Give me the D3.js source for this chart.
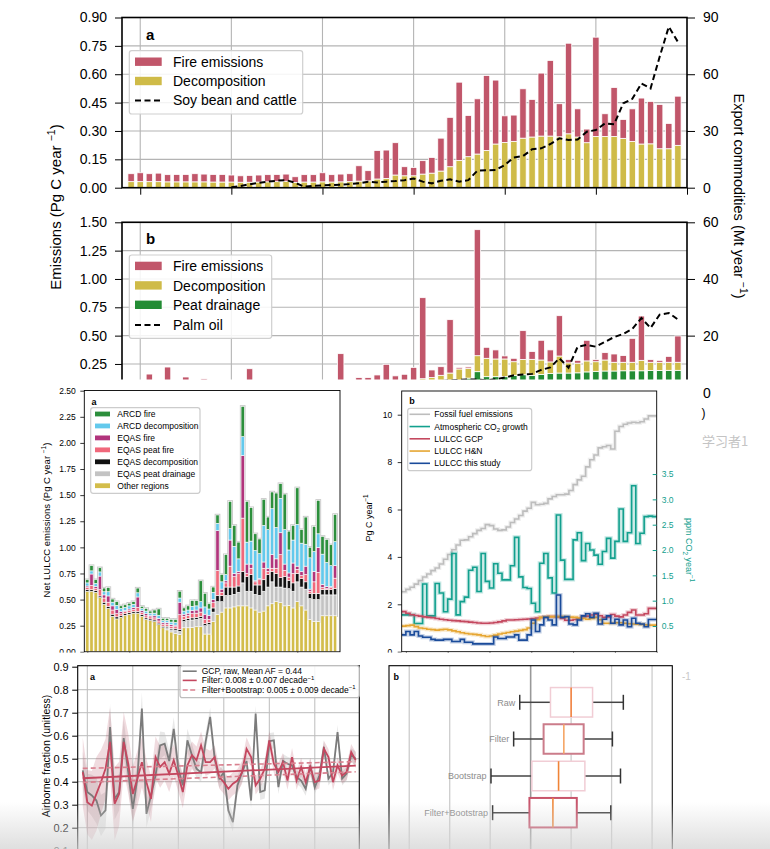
<!DOCTYPE html>
<html>
<head>
<meta charset="utf-8">
<script src="https://cdn.jsdelivr.net/npm/d3@7/dist/d3.min.js"></script>
<style>
  html, body { margin: 0; padding: 0; background: #fff; }
  svg { display: block; }
</style>
</head>
<body>
<svg id="chart" width="770" height="849"></svg>
<script>
// ---------- top figure: emissions and export commodities, 1959-2019 ----------
const years = d3.range(1959, 2020);

const decompA = [.032,.032,.032,.032,.031,.031,.031,.031,.031,.030,.030,.030,.029,.029,.030,.031,.032,.034,.028,.030,
  .030,.031,.030,.031,.032,.035,.036,.046,.049,.067,.063,.063,.072,.077,.088,.111,.144,.164,.178,.197,
  .231,.239,.245,.262,.268,.273,.273,.269,.285,.268,.238,.271,.271,.271,.261,.245,.231,.232,.206,.206,.224];
const fireA = [.042,.047,.042,.045,.038,.039,.039,.043,.041,.040,.040,.037,.034,.036,.037,.038,.038,.038,.030,.039,
  .039,.048,.039,.041,.042,.081,.054,.151,.150,.171,.048,.044,.071,.083,.174,.261,.414,.218,.292,.396,
  .338,.141,.139,.261,.199,.333,.400,.175,.479,.149,.072,.525,.120,.259,.100,.172,.243,.224,.234,.134,.260];
const soyYears = d3.range(1970, 2020);
const soyExport = [0.2,0.9,1.8,2.6,3.2,3.7,4.0,2.6,0.5,1.0,1.2,1.4,1.6,1.9,2.3,3.2,2.8,3.2,3.5,4.0,
  4.9,3.2,2.3,3.7,4.4,3.2,4.0,9.0,9.2,9.3,12.0,16.0,16.7,20.3,20.8,23.1,26.1,25.2,25.5,29.6,
  30.5,34.0,33.6,44.6,47.0,55.1,52.5,69.2,85.1,77.1];

const peatB = [0,0,0,0,0,0,0,0,0,0,0,0,0,0,0,0,0,0,0,0,0,0,0,0,0,0,0,0,0,0,
  .005,.01,.02,.03,.04,.06,.10,.125,.182,.138,.138,.138,.15,.155,.15,.158,.165,.17,.17,.172,.18,
  .185,.188,.188,.19,.19,.19,.192,.192,.194,.194];
const decompB = [.04,.04,.04,.04,.04,.04,.04,.04,.04,.035,.035,.035,.035,.035,.035,.035,.035,.035,.04,.04,
  .04,.04,.045,.05,.05,.06,.06,.07,.08,.08,.085,.09,.10,.10,.11,.11,.106,.087,.141,.162,
  .156,.156,.12,.135,.141,.127,.103,.15,.09,.085,.097,.085,.097,.077,.075,.075,.092,.073,.073,.071,.071];
const fireB = [.02,.04,.121,.03,.183,.04,.095,.03,.078,.025,.035,.045,.025,.173,.025,.035,.045,.025,.05,.03,
  .04,.03,.045,.291,.03,.07,.07,.083,.167,.065,.069,.12,.715,.067,.076,.471,.014,.012,1.112,.097,
  .08,.027,.03,.254,.069,.174,.106,.356,.03,.025,.182,.018,.065,.073,.059,.211,.391,.023,.017,.052,.232];
const palmYears = d3.range(1965, 2020);
const palmExport = [0.3,0.3,0.4,0.4,0.5,0.6,0.7,0.8,0.9,1.0,1.2,1.3,1.4,1.5,1.6,1.8,1.9,2.0,2.1,2.3,
  2.5,2.7,2.9,3.1,3.3,3.5,3.6,3.8,4.0,4.2,4.4,4.5,4.5,4.2,4.6,5.2,6.0,6.3,6.5,7.9,
  8.8,12.0,8.7,16.1,16.7,16.1,17.8,19.5,20.6,22.4,26.2,22.7,27.4,28.0,25.7];

// ---------- middle figure a: net LULCC emissions by region, 1960-2019 ----------
const yearsML = d3.range(1960, 2020);
const otherRegions = [.58,.58,.57,.52,.455,.415,.34,.315,.33,.35,.36,.37,.37,.34,.31,.30,.29,.26,.23,.21,
  .19,.175,.165,.23,.23,.235,.24,.24,.17,.17,.29,.36,.38,.42,.42,.43,.44,.44,.44,.42,
  .40,.38,.39,.44,.46,.48,.47,.44,.445,.42,.48,.44,.40,.31,.29,.29,.345,.345,.345,.345];
const eqasPeatDrainage = [0,0,0,0,0,0,0,0,0,0,0,0,0,0,0,0,0,0,0,.02,
  .02,.03,.03,.06,.07,.07,.07,.08,.08,.09,.09,.12,.10,.12,.12,.12,.13,.22,.14,.16,
  .15,.16,.19,.18,.21,.14,.15,.17,.16,.16,.19,.18,.20,.20,.21,.21,.20,.20,.20,.20];
const eqasDecomp = [.015,.015,.015,.015,.02,.02,.02,.02,.015,.015,.015,.015,.015,.015,.015,.015,.015,.015,.015,.015,
  .015,.015,.02,.02,.02,.02,.02,.02,.02,.02,.04,.06,.06,.08,.08,.07,.06,.11,.14,.16,
  .09,.10,.11,.12,.10,.13,.09,.11,.08,.08,.08,.08,.07,.05,.06,.06,.05,.05,.05,.06];
const eqasPeatFire = [.02,.04,.02,.06,.04,.04,.04,.03,.02,.02,.02,.02,.04,.02,.02,.02,.02,.02,.02,.02,
  .02,.02,.14,.03,.03,.04,.04,.04,.04,.03,.05,.24,.03,.04,.20,.10,.12,.51,.03,.06,
  .03,.05,.11,.03,.03,.05,.22,.06,.03,.09,.04,.03,.07,.02,.11,.20,.02,.01,.02,.10];
const eqasFire = [.015,.11,.02,.13,.03,.06,.04,.04,.02,.01,.015,.02,.10,.02,.02,.015,.02,.025,.015,.015,
  .015,.015,.12,.02,.02,.03,.03,.04,.05,.04,.03,.38,.03,.02,.25,.03,.02,.60,.09,.04,
  .01,.01,.06,.03,.13,.09,.21,.06,.04,.10,.03,.04,.08,.02,.10,.24,.03,.02,.01,.12];
const arcdDecomp = [.03,.03,.03,.04,.03,.04,.035,.04,.03,.03,.03,.03,.04,.02,.025,.02,.025,.03,.02,.02,
  .025,.025,.04,.03,.03,.04,.04,.06,.07,.06,.07,.07,.07,.06,.11,.26,.12,.18,.21,.22,
  .29,.24,.35,.37,.44,.30,.33,.33,.22,.22,.40,.27,.21,.30,.19,.13,.29,.23,.20,.23];
const arcdFire = [.03,.05,.035,.04,.035,.04,.03,.035,.025,.025,.025,.025,.045,.02,.025,.02,.03,.06,.02,.02,
  .025,.03,.065,.03,.04,.055,.05,.20,.13,.05,.05,.08,.07,.19,.26,.20,.16,.29,.39,.32,
  .16,.14,.25,.12,.16,.33,.14,.34,.18,.14,.35,.13,.26,.10,.24,.32,.17,.22,.20,.26];

// ---------- middle figure b: global budget terms, 1959-2019 ----------
const fossilFuel = [2.53,2.63,2.72,2.85,3.0,3.15,3.28,3.42,3.53,3.7,3.9,4.1,4.3,4.5,4.7,4.72,4.85,4.98,5.12,5.2,
  5.36,5.32,5.18,5.12,5.14,5.26,5.45,5.6,5.75,5.93,6.05,6.3,6.2,6.22,6.26,6.45,6.55,6.62,6.62,6.65,
  6.8,7.05,7.25,7.4,7.8,8.1,8.3,8.6,8.65,8.7,8.55,9.3,9.5,9.6,9.65,9.68,9.66,9.7,9.82,9.95,9.95];
const co2Growth = [0.72,0.72,0.72,0.55,0.55,1.33,0.70,0.70,1.34,1.15,0.78,1.03,1.93,0.72,0.98,1.07,1.60,1.66,1.18,1.93,
  1.38,1.25,1.73,1.54,1.41,1.41,1.69,2.25,1.47,1.26,1.24,0.95,0.78,1.74,1.93,1.45,1.15,2.69,1.80,1.42,
  1.42,2.20,2.34,1.79,2.13,2.00,1.90,1.72,1.97,2.23,1.84,2.17,2.81,2.17,2.34,3.27,2.13,2.33,2.66,2.67,2.66];
const lulccGCP = [1.69,1.62,1.56,1.53,1.50,1.47,1.45,1.43,1.40,1.37,1.35,1.33,1.31,1.30,1.28,1.27,1.25,1.23,1.21,1.20,
  1.20,1.21,1.23,1.26,1.30,1.34,1.34,1.35,1.36,1.37,1.38,1.40,1.42,1.44,1.46,1.48,1.48,1.47,1.40,1.33,
  1.33,1.36,1.40,1.48,1.50,1.55,1.58,1.52,1.45,1.47,1.57,1.50,1.47,1.55,1.66,1.76,1.55,1.55,1.60,1.83,1.83];
const lulccHN = [1.08,1.10,1.12,1.06,1.00,0.98,0.95,0.93,0.91,0.93,0.95,0.92,0.88,0.84,0.80,0.77,0.75,0.73,0.71,0.67,
  0.64,0.66,0.70,0.75,0.78,0.81,0.84,0.87,0.90,0.93,1.00,1.20,1.35,1.45,1.47,1.48,1.48,1.48,1.48,1.47,
  1.46,1.45,1.42,1.40,1.37,1.40,1.45,1.35,1.20,1.20,1.20,1.22,1.22,1.20,1.18,1.17,1.16,1.15,1.13,1.12,1.12];
const lulccThisStudy = [0.71,0.85,0.71,0.85,0.66,0.61,0.61,0.52,0.49,0.49,0.52,0.52,0.43,0.43,0.52,0.40,0.40,0.33,0.33,0.33,
  0.33,0.33,0.62,0.56,0.56,0.62,0.62,0.71,0.49,0.49,0.71,1.34,0.85,1.13,1.45,1.34,1.13,2.39,1.45,1.48,
  1.17,1.13,1.34,1.51,1.60,1.45,1.62,1.17,1.37,1.51,1.20,1.37,1.13,1.34,1.05,1.41,1.20,1.17,1.05,1.36,1.36];

// ---------- bottom figure a: airborne fraction, 1959-2019 ----------
const afRaw = [.449,.355,.34,.318,.253,.275,.638,.325,.355,.59,.44,.282,.413,.718,.26,.34,.427,.558,.565,.49,
  .63,.456,.384,.58,.515,.456,.44,.573,.682,.5,.413,.44,.275,.224,.384,.44,.49,.318,.696,.355,
  .362,.576,.58,.376,.49,.478,.471,.42,.405,.369,.471,.376,.427,.551,.413,.44,.616,.413,.435,.515,.5];
const afFilter = [.442,.311,.296,.347,.398,.456,.573,.304,.347,.573,.478,.347,.413,.485,.398,.325,.507,.464,.485,.435,
  .493,.427,.355,.471,.515,.493,.558,.485,.485,.507,.42,.398,.369,.391,.405,.44,.543,.507,.384,.413,
  .456,.58,.478,.442,.485,.405,.507,.405,.464,.398,.464,.398,.405,.543,.507,.398,.471,.427,.442,.529,.493];
const afRawSpread = [.08,.08,.09,.1,.09,.08,.1,.09,.08,.08,.07,.08,.07,.07,.06,.06,.06,.06,.05,.05,
  .05,.05,.05,.05,.05,.04,.04,.04,.04,.04,.04,.04,.04,.04,.04,.04,.04,.035,.035,.035,
  .035,.035,.035,.03,.03,.03,.03,.03,.03,.03,.03,.03,.03,.03,.03,.03,.03,.03,.03,.03,.03];
const afFilterSpread = [.15,.14,.15,.16,.14,.13,.15,.16,.14,.13,.13,.12,.12,.11,.1,.1,.09,.09,.08,.08,
  .07,.07,.07,.06,.06,.06,.06,.06,.05,.05,.05,.05,.05,.05,.05,.05,.05,.04,.04,.04,
  .04,.04,.04,.04,.04,.04,.04,.04,.04,.04,.04,.035,.035,.035,.035,.035,.035,.035,.035,.035,.035];
const trendEnds = [1959, 2019];
const filterTrend = [0.415, 0.470];
const bootUpper = [0.458, 0.487];
const bootLower = [0.397, 0.443];

// ---------- bottom figure b: trend distributions (decade^-1) ----------
const boxNames = ["Raw", "Filter", "Bootstrap", "Filter+Bootstrap"];
const boxLow = [-0.0027, -0.0042, -0.0098, -0.0094];
const boxQ1 = [0.0049, 0.0032, 0.0003, -0.0003];
const boxMed = [0.0100, 0.0082, 0.0069, 0.0055];
const boxQ3 = [0.0153, 0.0131, 0.0134, 0.0114];
const boxHigh = [0.0229, 0.0202, 0.0222, 0.0198];

// ====================================================================
const FONT = "'Liberation Sans', Arial, Helvetica, sans-serif";
const svg = d3.select("#chart");
const defs = svg.append("defs");

function axis(g, gen, fs, color = "#000", lw = 1) {
  g.call(gen).attr("font-family", FONT).attr("font-size", fs);
  g.select(".domain").remove();
  g.selectAll(".tick line").attr("stroke", color).attr("stroke-width", lw);
  g.selectAll(".tick text").attr("fill", color);
  return g;
}

// text with super/subscript pieces: parts = ["plain", ["-1","sup"], ...]
function rich(text, parts, fs) {
  let cur = 0;
  parts.forEach(p => {
    const [s, k] = Array.isArray(p) ? p : [p, ""];
    const off = k === "sup" ? -0.42 * fs : k === "sub" ? 0.3 * fs : 0;
    text.append("tspan").attr("dy", off - cur).attr("font-size", k ? fs * 0.7 : fs).text(s);
    cur = off;
  });
  return text;
}

function label(x, y, parts, fs, opts = {}) {
  const t = svg.append("text")
    .attr("font-family", opts.family || FONT)
    .attr("font-size", fs)
    .attr("fill", opts.fill || "#000")
    .attr("font-weight", opts.bold ? "bold" : null)
    .attr("text-anchor", opts.anchor || "start");
  if (opts.rotate) t.attr("transform", `translate(${x},${y}) rotate(${opts.rotate})`);
  else t.attr("x", x).attr("y", y);
  return rich(t, typeof parts === "string" ? [parts] : parts, fs);
}

function grid(g, x, xt, y, yt, box, color, lw) {
  g.append("g").selectAll("line").data(xt).join("line")
    .attr("x1", d => x(d)).attr("x2", d => x(d)).attr("y1", box.y0).attr("y2", box.y1)
    .attr("stroke", color).attr("stroke-width", lw);
  g.append("g").selectAll("line").data(yt).join("line")
    .attr("x1", box.x0).attr("x2", box.x1).attr("y1", d => y(d)).attr("y2", d => y(d))
    .attr("stroke", color).attr("stroke-width", lw);
}

function frame(box, lw) {
  svg.append("rect").attr("x", box.x0).attr("y", box.y0)
    .attr("width", box.x1 - box.x0).attr("height", box.y1 - box.y0)
    .attr("fill", "none").attr("stroke", "#000").attr("stroke-width", lw);
}

function stackBars(g, x, y, yrs, series, colors, barW, stroke, sw) {
  const rows = yrs.map((yr, i) => {
    const o = { year: yr };
    series.forEach((s, k) => { o["s" + k] = s[i]; });
    return o;
  });
  const layers = d3.stack().keys(series.map((s, k) => "s" + k))(rows);
  layers.forEach((layer, li) => {
    g.append("g").attr("fill", colors[li]).selectAll("rect").data(layer).join("rect")
      .attr("x", d => x(d.data.year) - barW / 2).attr("width", barW)
      .attr("y", d => y(d[1])).attr("height", d => Math.max(0, y(d[0]) - y(d[1])))
      .attr("stroke", d => d[1] - d[0] > 0 ? stroke : "none").attr("stroke-width", sw);
  });
  return layers;
}

function legendBox(x, y, w, h, stroke) {
  svg.append("rect").attr("x", x).attr("y", y).attr("width", w).attr("height", h)
    .attr("rx", 2.5).attr("fill", "#fff").attr("fill-opacity", 0.85)
    .attr("stroke", stroke).attr("stroke-width", 1.2);
}

// ======================= TOP FIGURE =======================
const xTop = d3.scaleLinear().domain([1958, 2020]).range([122, 687]);
const boxA = { x0: 122, x1: 687, y0: 17.5, y1: 187.7 };
const boxB = { x0: 122, x1: 687, y0: 222.3, y1: 392.3 };
const yA = d3.scaleLinear().domain([0, 0.9]).range([boxA.y1, boxA.y0]);
const yAR = d3.scaleLinear().domain([0, 90]).range([boxA.y1, boxA.y0]);
const yB = d3.scaleLinear().domain([0, 1.5]).range([boxB.y1, boxB.y0]);
const yBR = d3.scaleLinear().domain([0, 60]).range([boxB.y1, boxB.y0]);
const decades = [1960, 1970, 1980, 1990, 2000, 2010];
const barTop = 6.4;
const fireCol = "#c1566a", decCol = "#cfbb48", peatCol = "#238c34";

const tickA = [0, 0.15, 0.3, 0.45, 0.6, 0.75, 0.9];
const tickB = [0.25, 0.5, 0.75, 1.0, 1.25, 1.5];   // the 0.00 row sits under the middle figure
grid(svg.append("g"), xTop, decades, yA, tickA, boxA, "#b4b4b4", 1.1);
grid(svg.append("g"), xTop, decades, yB, tickB, boxB, "#b4b4b4", 1.1);

stackBars(svg.append("g"), xTop, yA, years, [decompA, fireA], [decCol, fireCol], barTop, "#fff", 0.8);
stackBars(svg.append("g"), xTop, yB, years, [peatB, decompB, fireB], [peatCol, decCol, fireCol], barTop, "#fff", 0.8);

const dashLine = (xs, scale) => d3.line().x((d, i) => xTop(xs[i])).y(d => scale(d));
svg.append("path").datum(soyExport).attr("d", dashLine(soyYears, yAR))
  .attr("fill", "none").attr("stroke", "#000").attr("stroke-width", 2).attr("stroke-dasharray", "6,3.5");
svg.append("path").datum(palmExport).attr("d", dashLine(palmYears, yBR))
  .attr("fill", "none").attr("stroke", "#000").attr("stroke-width", 2).attr("stroke-dasharray", "6,3.5");

frame(boxA, 1.6);
frame(boxB, 1.6);

axis(svg.append("g").attr("transform", `translate(${boxA.x0},0)`),
  d3.axisLeft(yA).tickValues(tickA).tickFormat(d3.format(".2f")).tickSize(7).tickPadding(8), 14);
axis(svg.append("g").attr("transform", `translate(${boxA.x1},0)`),
  d3.axisRight(yAR).tickValues([0, 30, 60, 90]).tickFormat(d3.format("d")).tickSize(8).tickPadding(8), 14);
axis(svg.append("g").attr("transform", `translate(${boxB.x0},0)`),
  d3.axisLeft(yB).tickValues(tickB).tickFormat(d3.format(".2f")).tickSize(7).tickPadding(8), 14);
axis(svg.append("g").attr("transform", `translate(${boxB.x1},0)`),
  d3.axisRight(yBR).tickValues([20, 40, 60]).tickFormat(d3.format("d")).tickSize(8).tickPadding(8), 14);
axis(svg.append("g").attr("transform", `translate(0,${boxA.y1})`),
  d3.axisBottom(xTop).tickValues([1960, 1970, 1980, 1990, 2000, 2010, 2020]).tickFormat("").tickSize(7), 14);

label(146, 39.5, "a", 15, { bold: true });
label(146, 244, "b", 15, { bold: true });

// legends
legendBox(129.3, 50.7, 173.4, 63.3, "#cfcfcf");
[[fireCol, "Fire emissions", 57.5, 66.7], [decCol, "Decomposition", 76.8, 86]].forEach(([c, t, py, ty]) => {
  svg.append("rect").attr("x", 135).attr("y", py).attr("width", 26.7).attr("height", 8.4).attr("fill", c);
  label(173, ty, t, 14);
});
svg.append("line").attr("x1", 135).attr("x2", 162.7).attr("y1", 100.5).attr("y2", 100.5)
  .attr("stroke", "#000").attr("stroke-width", 2).attr("stroke-dasharray", "6,3.5");
label(173, 105.3, "Soy bean and cattle", 14);

legendBox(129.3, 255, 142.4, 83.3, "#cfcfcf");
[[fireCol, "Fire emissions", 261.7, 271.2], [decCol, "Decomposition", 281.2, 290.7], [peatCol, "Peat drainage", 300.6, 310.1]]
  .forEach(([c, t, py, ty]) => {
    svg.append("rect").attr("x", 135).attr("y", py).attr("width", 26.7).attr("height", 8.4).attr("fill", c);
    label(173, ty, t, 14);
  });
svg.append("line").attr("x1", 135).attr("x2", 162.7).attr("y1", 325).attr("y2", 325)
  .attr("stroke", "#000").attr("stroke-width", 2).attr("stroke-dasharray", "6,3.5");
label(173, 329.5, "Palm oil", 14);

label(61, 207, ["Emissions (Pg C year ", ["\u22121", "sup"], ")"], 15, { anchor: "middle", rotate: -90 });
label(734, 196, ["Export commodities (Mt year ", ["\u22121", "sup"], ")"], 14.5, { anchor: "middle", rotate: 90 });

// ======================= MIDDLE FIGURE =======================
svg.append("rect").attr("x", 0).attr("y", 379.5).attr("width", 770).attr("height", 470).attr("fill", "#fff");
label(703, 397.5, "0", 14);
label(701.5, 417, ")", 12);
label(702, 446, "学习者1", 13, { fill: "#c4c4c4", family: "'Noto Sans CJK SC', sans-serif" });

// --- a: stacked regional emissions ---
const boxML = { x0: 84.3, x1: 340, y0: 390.5, y1: 651.8 };
const xML = d3.scaleLinear().domain([1960, 2019]).range([87.3, 335.1]);
const yML = d3.scaleLinear().domain([0, 2.5]).range([boxML.y1, 390.7]);
const regionSeries = [otherRegions, eqasPeatDrainage, eqasDecomp, eqasPeatFire, eqasFire, arcdDecomp, arcdFire];
const regionCols = ["#d3bd4b", "#c3c3c3", "#111111", "#f0687b", "#b1347c", "#63c9ec", "#2c8f3c"];
const regionNames = ["Other regions", "EQAS peat drainage", "EQAS decomposition", "EQAS peat fire",
  "EQAS fire", "ARCD decomposition", "ARCD fire"];
const barML = 3.3;

const totalsML = yearsML.map((yr, i) => d3.sum(regionSeries, s => s[i]));
svg.append("g").selectAll("rect").data(yearsML).join("rect")
  .attr("x", d => xML(d) - barML / 2).attr("width", barML)
  .attr("y", (d, i) => yML(totalsML[i])).attr("height", (d, i) => yML(otherRegions[i]) - yML(totalsML[i]))
  .attr("fill", "none").attr("stroke", "#c8c8c8").attr("stroke-width", 2.4);
stackBars(svg.append("g"), xML, yML, yearsML, regionSeries, regionCols, barML, "#fff", 0.6);

frame(boxML, 0.9);
axis(svg.append("g").attr("transform", `translate(${boxML.x0},0)`),
  d3.axisLeft(yML).tickValues(d3.range(0, 2.51, 0.25)).tickFormat(d3.format(".2f")).tickSize(4).tickPadding(4.5), 8.5, "#000", 0.8);
axis(svg.append("g").attr("transform", `translate(0,${boxML.y1})`),
  d3.axisBottom(xML).tickValues([1960, 1970, 1980, 1990, 2000, 2010]).tickFormat("").tickSize(4), 8.5, "#000", 0.8);
label(91.5, 404.5, "a", 9, { bold: true });
label(50, 520, ["Net LULCC emissions (Pg C year ", ["\u22121", "sup"], ")"], 9.5, { anchor: "middle", rotate: -90 });

legendBox(90.7, 407.7, 109.3, 85.6, "#cccccc");
regionNames.slice().reverse().forEach((n, k) => {
  const cy = 414 + k * 11.95;
  svg.append("rect").attr("x", 95).attr("y", cy - 2.4).attr("width", 15).attr("height", 4.8)
    .attr("fill", regionCols[regionCols.length - 1 - k]);
  label(117.3, cy + 3, n, 8.5);
});

// --- b: global budget step lines ---
const boxMR = { x0: 401.7, x1: 656.7, y0: 391, y1: 651.7 };
const xMR = d3.scaleLinear().domain([1959, 2020]).range([boxMR.x0, boxMR.x1]);
const yMR = d3.scaleLinear().domain([0, 11]).range([boxMR.y1, boxMR.y0]);
const yMRr = d3.scaleLinear().domain([0, 5.14]).range([651.3, boxMR.y0]);
const teal = "#12a08e";

defs.append("clipPath").attr("id", "clipMR").append("rect")
  .attr("x", boxMR.x0).attr("y", boxMR.y0).attr("width", boxMR.x1 - boxMR.x0).attr("height", boxMR.y1 - boxMR.y0);
const gMR = svg.append("g").attr("clip-path", "url(#clipMR)");
const budget = [
  { vals: fossilFuel, scale: yMR, col: "#bdbdbd", name: "Fossil fuel emissions" },
  { vals: co2Growth, scale: yMRr, col: teal, name: "Atmospheric CO2 growth" },
  { vals: lulccGCP, scale: yMR, col: "#c4485f", name: "LULCC GCP" },
  { vals: lulccHN, scale: yMR, col: "#e6a632", name: "LULCC H&N" },
  { vals: lulccThisStudy, scale: yMR, col: "#1a4b9a", name: "LULCC this study" }
];
budget.forEach(b => {
  const pts = b.vals.map((v, i) => [years[i], v]).concat([[2020, b.vals[b.vals.length - 1]]]);
  const line = d3.line().curve(d3.curveStepAfter).x(d => xMR(d[0])).y(d => b.scale(d[1]));
  gMR.append("path").datum(pts).attr("d", line).attr("fill", "none")
    .attr("stroke", b.col).attr("stroke-opacity", 0.25).attr("stroke-width", 4);
  gMR.append("path").datum(pts).attr("d", line).attr("fill", "none")
    .attr("stroke", b.col).attr("stroke-width", 1.6);
});

frame(boxMR, 0.9);
axis(svg.append("g").attr("transform", `translate(${boxMR.x0},0)`),
  d3.axisLeft(yMR).tickValues([0, 2, 4, 6, 8, 10]).tickFormat(d3.format("d")).tickSize(4).tickPadding(5.5), 8.5, "#000", 0.8);
axis(svg.append("g").attr("transform", `translate(${boxMR.x1 - 4},0)`),
  d3.axisRight(yMRr).tickValues([0.5, 1, 1.5, 2, 2.5, 3, 3.5]).tickFormat(d3.format(".1f")).tickSize(4).tickPadding(5), 8.5, teal, 1);
axis(svg.append("g").attr("transform", `translate(0,${boxMR.y1})`),
  d3.axisBottom(xMR).tickValues([1960, 1970, 1980, 1990, 2000, 2010, 2020]).tickFormat("").tickSize(4), 8.5, "#000", 0.8);
label(409.3, 404.3, "b", 9, { bold: true });
label(372, 518, ["Pg C year", ["\u22121", "sup"]], 9, { anchor: "middle", rotate: -90 });
label(686, 550, ["ppm CO", ["2", "sub"], " year", ["\u22121", "sup"]], 9, { anchor: "middle", rotate: 90, fill: teal });

legendBox(407.7, 408.3, 124, 62.4, "#cccccc");
budget.forEach((b, k) => {
  const cy = 414.3 + k * 12.25;
  svg.append("line").attr("x1", 409.5).attr("x2", 430).attr("y1", cy).attr("y2", cy)
    .attr("stroke", b.col).attr("stroke-width", 1.6);
  const parts = k === 1 ? ["Atmospheric CO", ["2", "sub"], " growth"] : [b.name];
  label(434.3, cy + 3, parts, 8.5);
});

// ======================= BOTTOM FIGURE =======================
svg.append("rect").attr("x", 0).attr("y", 652.6).attr("width", 770).attr("height", 200).attr("fill", "#fff");

// --- a: airborne fraction ---
const boxAF = { x0: 77.7, x1: 359.3, y0: 665.7, y1: 880 };
const xAF = d3.scaleLinear().domain([1960, 2020]).range([87.3, 360.3]);
const yAF = d3.scaleLinear().domain([0.1, 0.9]).range([850.7, 666.7]);
defs.append("clipPath").attr("id", "clipAF").append("rect")
  .attr("x", boxAF.x0).attr("y", boxAF.y0).attr("width", boxAF.x1 - boxAF.x0).attr("height", boxAF.y1 - boxAF.y0);
const gAF = svg.append("g").attr("clip-path", "url(#clipAF)");
grid(gAF, xAF, decades, yAF, [0.1, 0.2, 0.3, 0.4, 0.5, 0.6, 0.7, 0.8], boxAF, "#bcbcbc", 1);

const band = (vals, spread) => d3.area().x((d, i) => xAF(years[i]))
  .y0((d, i) => yAF(vals[i] - spread[i])).y1((d, i) => yAF(vals[i] + spread[i]));
gAF.append("path").datum(afRaw).attr("d", band(afRaw, afRawSpread)).attr("fill", "#bdbdbd").attr("fill-opacity", 0.35);
gAF.append("path").datum(afFilter).attr("d", band(afFilter, afFilterSpread)).attr("fill", "#b54a5e").attr("fill-opacity", 0.2);
const afLine = d3.line().x((d, i) => xAF(years[i])).y(d => yAF(d));
gAF.append("path").datum(afRaw).attr("d", afLine).attr("fill", "none").attr("stroke", "#7b7b7b").attr("stroke-width", 1.8);
gAF.append("path").datum(afFilter).attr("d", afLine).attr("fill", "none").attr("stroke", "#c4475f").attr("stroke-width", 1.8);
const trendLine = d3.line().x((d, i) => xAF(trendEnds[i])).y(d => yAF(d));
[bootUpper, bootLower].forEach(t => {
  gAF.append("path").datum(t).attr("d", trendLine).attr("fill", "none")
    .attr("stroke", "#d9808f").attr("stroke-width", 1.6).attr("stroke-dasharray", "5,3");
});
gAF.append("path").datum(filterTrend).attr("d", trendLine).attr("fill", "none")
  .attr("stroke", "#c4475f").attr("stroke-width", 1.8);

frame(boxAF, 1.1);
axis(svg.append("g").attr("transform", `translate(${boxAF.x0},0)`),
  d3.axisLeft(yAF).tickValues([0.1, 0.2, 0.3, 0.4, 0.5, 0.6, 0.7, 0.8, 0.9]).tickFormat(d3.format(".1f")).tickSize(5.5).tickPadding(3.5), 11, "#000", 1);
label(90, 679.5, "a", 9, { bold: true });
label(50, 756, "Airborne fraction (unitless)", 10.5, { anchor: "middle", rotate: -90 });

legendBox(180, 665.7, 179.3, 32, "#bdbdbd");
[["#7b7b7b", null, ["GCP, raw, Mean AF = 0.44"], 671.2],
 ["#c4475f", null, ["Filter: 0.008 \u00b1 0.007 decade", ["\u22121", "sup"]], 680.4],
 ["#d9808f", "5,2.5", ["Filter+Bootstrap: 0.005 \u00b1 0.009 decade", ["\u22121", "sup"]], 690]]
  .forEach(([c, dash, parts, cy]) => {
    svg.append("line").attr("x1", 182.7).attr("x2", 196.7).attr("y1", cy).attr("y2", cy)
      .attr("stroke", c).attr("stroke-width", 1.6).attr("stroke-dasharray", dash);
    label(201.7, cy + 3, parts, 8.5);
  });

// --- b: box plots of trends ---
const boxBP = { x0: 389, x1: 672.3, y0: 665.7, y1: 880 };
const xBP = d3.scaleLinear().domain([-0.035, 0.035]).range([boxBP.x0, boxBP.x1]);
const gridBP = [-0.03, -0.02, -0.01, 0, 0.01, 0.02, 0.03];
svg.append("g").selectAll("line").data(gridBP).join("line")
  .attr("x1", d => xBP(d)).attr("x2", d => xBP(d)).attr("y1", boxBP.y0).attr("y2", 849)
  .attr("stroke", d => d === 0 ? "#999" : "#cdcdcd").attr("stroke-width", d => d === 0 ? 1.6 : 1.3);

const rowY = [702.3, 739, 776, 812.7];
const boxEdge = ["#f1cdd5", "#cb7c8a", "#f1cdd5", "#c8546b"];
const medCol = ["#f07f3c", "#f5a565", "#f08437", "#f08a3e"];
const edgeW = [1.5, 2, 1.5, 2];
boxNames.forEach((n, i) => {
  const g = svg.append("g");
  const cy = rowY[i], h = 29.5;
  g.append("line").attr("x1", xBP(boxLow[i])).attr("x2", xBP(boxQ1[i])).attr("y1", cy).attr("y2", cy)
    .attr("stroke", "#444").attr("stroke-width", 1.5);
  g.append("line").attr("x1", xBP(boxQ3[i])).attr("x2", xBP(boxHigh[i])).attr("y1", cy).attr("y2", cy)
    .attr("stroke", "#444").attr("stroke-width", 1.5);
  [boxLow[i], boxHigh[i]].forEach(v => {
    g.append("line").attr("x1", xBP(v)).attr("x2", xBP(v)).attr("y1", cy - 7.5).attr("y2", cy + 7.5)
      .attr("stroke", "#333").attr("stroke-width", 1.5);
  });
  g.append("rect").attr("x", xBP(boxQ1[i])).attr("y", cy - h / 2)
    .attr("width", xBP(boxQ3[i]) - xBP(boxQ1[i])).attr("height", h)
    .attr("fill", "#fff").attr("stroke", boxEdge[i]).attr("stroke-width", edgeW[i]);
  g.append("line").attr("x1", xBP(boxMed[i])).attr("x2", xBP(boxMed[i])).attr("y1", cy - h / 2).attr("y2", cy + h / 2)
    .attr("stroke", medCol[i]).attr("stroke-width", 1.6);
  label(xBP(boxLow[i]) - 4.5, cy + 3.3, n, 9, { anchor: "end", fill: "#8c8c8c" });
});
frame(boxBP, 1.1);
label(393.5, 679.5, "b", 9, { bold: true });
label(682, 680, "-1", 10, { fill: "#c8c8c8" });

// soft shadow at the bottom edge
const fade = defs.append("linearGradient").attr("id", "fade").attr("x1", 0).attr("y1", 0).attr("x2", 0).attr("y2", 1);
fade.append("stop").attr("offset", 0).attr("stop-color", "#d4d4d4").attr("stop-opacity", 0);
fade.append("stop").attr("offset", 1).attr("stop-color", "#d4d4d4").attr("stop-opacity", 0.75);
svg.append("rect").attr("x", 0).attr("y", 802).attr("width", 770).attr("height", 47).attr("fill", "url(#fade)");
</script>
</body>
</html>
